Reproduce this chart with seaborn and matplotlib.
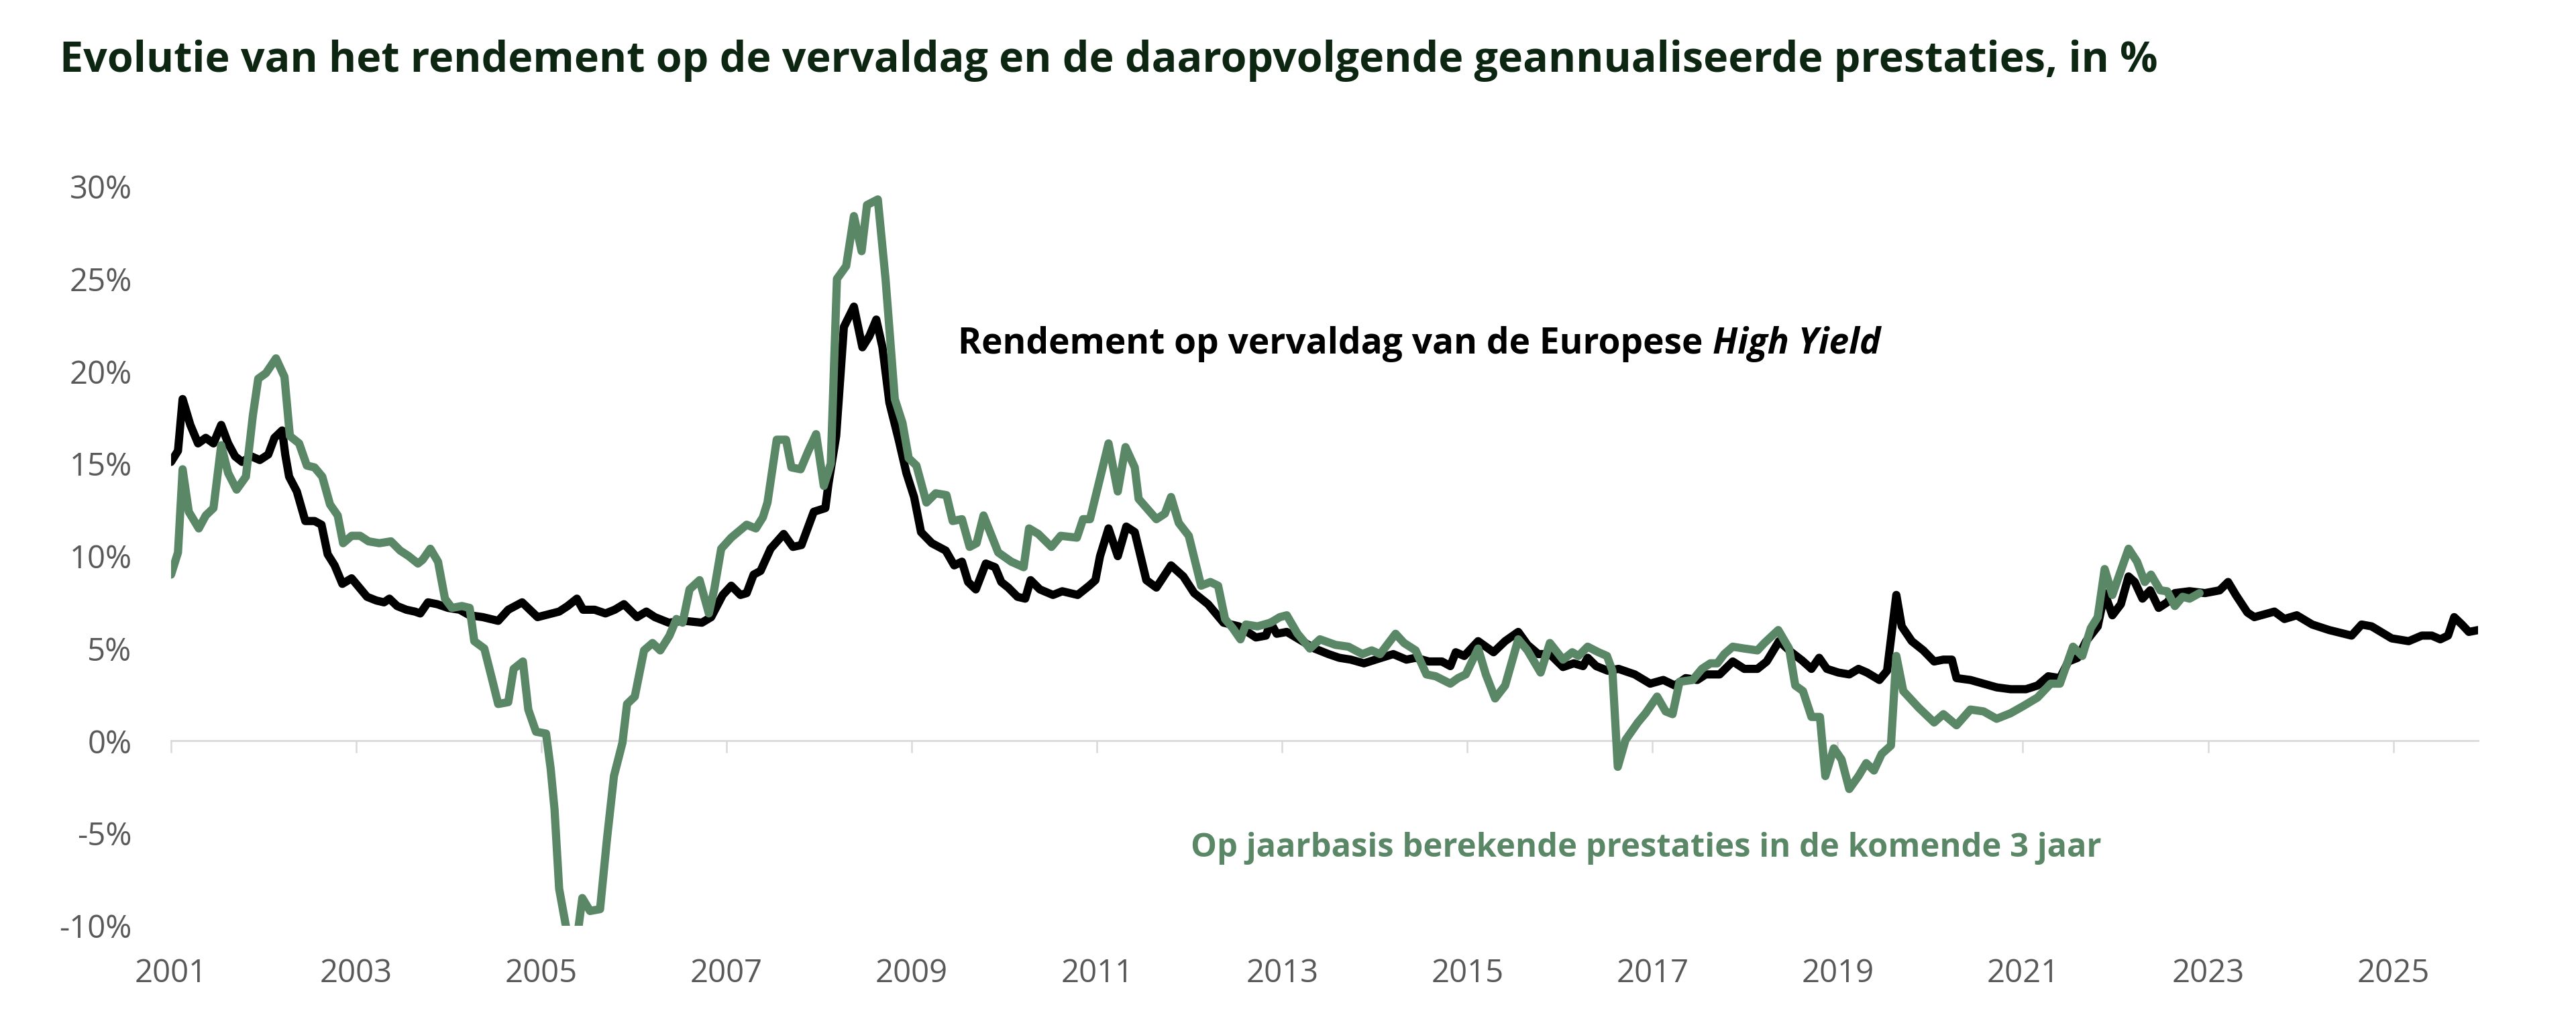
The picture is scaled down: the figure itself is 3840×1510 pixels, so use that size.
"""
Yield to maturity of European High Yield vs. subsequent 3-year annualised returns.
Values read off the reference chart (month offsets counted from January 2001).
"""

import numpy as np
import pandas as pd
import matplotlib
matplotlib.use("Agg")
import matplotlib.pyplot as plt
import seaborn as sns

sns.set_theme(style="white")
plt.rcParams["font.family"] = ["Open Sans", "DejaVu Sans"]

TITLE = ("Evolutie van het rendement op de vervaldag en de daaropvolgende "
         "geannualiseerde prestaties, in %")
LABEL_HY = "Rendement op vervaldag van de Europese"
LABEL_HY_ITALIC = "High Yield"
LABEL_FWD = "Op jaarbasis berekende prestaties in de komende 3 jaar"

START_YEAR = 2001
YEAR_TICKS = list(range(2001, 2026, 2))
PCT_TICKS = [-10, -5, 0, 5, 10, 15, 20, 25, 30]

GREEN = "#5a8766"
TITLE_COLOR = "#0c2612"
TICK_COLOR = "#595959"

# yield to maturity, European High Yield (black line)
hy_month = [0, 0.9, 1.5, 2.5, 3.5, 4.5, 5.5, 6.5, 7.4, 8.3,
            9.2, 10.4, 11.5, 12.6, 13.4, 14.4, 14.8, 15.3, 16.3, 17.4,
            18.6, 19.5, 20.3, 21.2, 22.2, 23.4, 24.4, 25.4, 26.6, 27.6,
            28.3, 29.3, 30.5, 31.6, 32.3, 33.3, 34.5, 35.9, 37.4, 38.7,
            40.4, 42.4, 43.7, 45.5, 47.5, 50.3, 51.4, 52.6, 53.4, 54.9,
            56.3, 57.5, 58.7, 60.4, 61.6, 62.7, 64.5, 66.5, 68.8, 70,
            71.5, 72.6, 73.8, 74.6, 75.5, 76.4, 77.7, 79.4, 80.6, 81.7,
            83.3, 84.8, 85.2, 86.2, 87.2, 88.5, 89.6, 90.5, 91.4, 92.2,
            93.1, 94.3, 95.3, 96.3, 97.2, 98.6, 100.4, 101.5, 102.5, 103.3,
            104.3, 105.6, 106.8, 107.6, 108.5, 109.7, 110.7, 111.4, 112.6, 114.3,
            115.5, 117.5, 119.0, 119.8, 120.4, 121.5, 122.7, 123.8, 124.9, 126.4,
            127.7, 129.6, 131.2, 132.6, 134.4, 136.4, 138.4, 140.6, 141.9, 142.5,
            143.3, 144.6, 146.2, 148.2, 150.0, 151.4, 152.9, 154.6, 156.1, 158.4,
            160.1, 161.3, 163.0, 164.7, 165.8, 166.5, 167.6, 169.4, 171.4, 172.9,
            174.6, 175.8, 177.2, 178.7, 180.4, 181.8, 183.0, 183.6, 184.7, 186.2,
            187.6, 189.7, 191.7, 193.4, 194.9, 196.3, 197.8, 198.9, 200.7, 202.4,
            203.9, 205.6, 206.8, 208.4, 210.0, 211.4, 212.6, 213.6, 214.6, 216.1,
            217.5, 218.7, 219.8, 221.4, 222.4, 223.6, 224.3, 225.6, 227.1, 228.5,
            229.7, 230.8, 231.4, 233.2, 234.9, 236.6, 238.4, 240.4, 241.9, 243.3,
            244.8, 245.9, 247.1, 248.2, 249.7, 250.6, 251.6, 252.7, 253.7, 254.5,
            255.5, 256.5, 257.6, 258.7, 259.7, 261.6, 263.6, 265.5, 266.6, 267.6,
            269.1, 270.0, 272.6, 273.9, 275.5, 277.5, 279.7, 282.6, 283.9, 285.2,
            287.8, 290.0, 291.7, 293.0, 294.1, 295.1, 295.9, 296.9, 297.8, 299.0]
hy_yield = [15.1, 15.7, 18.5, 17.1, 16.1, 16.4, 16.1, 17.1, 16.1, 15.4,
            15.1, 15.4, 15.2, 15.5, 16.4, 16.8, 15.5, 14.3, 13.5, 11.9,
            11.9, 11.7, 10.1, 9.5, 8.5, 8.8, 8.3, 7.8, 7.6, 7.5,
            7.7, 7.3, 7.1, 7.0, 6.9, 7.5, 7.4, 7.2, 7.1, 6.8,
            6.7, 6.5, 7.1, 7.5, 6.7, 7.0, 7.3, 7.7, 7.1, 7.1,
            6.9, 7.1, 7.4, 6.7, 7.0, 6.7, 6.4, 6.5, 6.4, 6.7,
            7.9, 8.4, 7.9, 8.0, 9.0, 9.2, 10.4, 11.2, 10.5, 10.6,
            12.4, 12.6, 13.9, 16.5, 22.4, 23.5, 21.3, 21.9, 22.8, 21.3,
            18.3, 16.3, 14.5, 13.2, 11.3, 10.7, 10.3, 9.5, 9.7, 8.6,
            8.2, 9.6, 9.4, 8.6, 8.3, 7.8, 7.7, 8.7, 8.2, 7.9,
            8.1, 7.9, 8.4, 8.7, 10.0, 11.5, 10.0, 11.6, 11.3, 8.7,
            8.3, 9.5, 8.9, 8.0, 7.4, 6.4, 6.2, 5.6, 5.7, 6.4,
            5.8, 5.9, 5.5, 5.0, 4.7, 4.5, 4.4, 4.2, 4.4, 4.7,
            4.4, 4.5, 4.3, 4.3, 4.05, 4.8, 4.6, 5.4, 4.8, 5.4,
            5.9, 5.2, 4.7, 4.7, 4.0, 4.2, 4.05, 4.5, 4.05, 3.8,
            3.9, 3.6, 3.1, 3.3, 3.0, 3.4, 3.3, 3.6, 3.6, 4.3,
            3.9, 3.9, 4.3, 5.4, 4.8, 4.35, 3.9, 4.5, 3.9, 3.7,
            3.6, 3.9, 3.7, 3.3, 3.8, 7.9, 6.2, 5.4, 4.9, 4.3,
            4.4, 4.4, 3.4, 3.3, 3.1, 2.9, 2.8, 2.8, 3.0, 3.5,
            3.4, 4.3, 4.5, 5.4, 6.2, 8.0, 6.8, 7.4, 8.9, 8.6,
            7.7, 8.15, 7.2, 7.5, 8.0, 8.1, 8.0, 8.15, 8.6, 7.9,
            6.95, 6.7, 7.0, 6.6, 6.8, 6.3, 6.0, 5.7, 6.3, 6.2,
            5.55, 5.4, 5.7, 5.7, 5.5, 5.7, 6.7, 6.3, 5.9, 6.0]

# annualised return over the following 3 years (green line)
fwd_month = [0, 0.9, 1.5, 2.3, 3.6, 4.5, 5.5, 6.5, 7.4, 8.5,
             9.7, 10.6, 11.3, 12.3, 13.6, 14.7, 15.4, 16.6, 17.6, 18.6,
             19.6, 20.6, 21.6, 22.3, 23.4, 24.5, 25.6, 27.0, 28.5, 29.7,
             30.8, 32.0, 32.6, 33.6, 34.6, 35.5, 36.4, 37.7, 38.7, 39.3,
             40.6, 41.6, 42.4, 43.7, 44.4, 45.6, 46.3, 47.3, 48.6, 49.2,
             49.7, 50.3, 51.6, 52.8, 53.3, 54.3, 55.6, 56.5, 57.4, 58.5,
             59.1, 60.1, 61.3, 62.4, 63.4, 64.6, 65.5, 66.3, 67.2, 68.5,
             69.7, 70.4, 71.3, 72.6, 74.6, 75.8, 76.7, 77.3, 78.5, 79.7,
             80.4, 81.6, 82.6, 83.6, 84.6, 85.5, 86.3, 87.5, 88.5, 89.5,
             90.2, 91.6, 92.6, 93.8, 94.8, 95.6, 96.6, 97.9, 99.1, 100.5,
             101.3, 102.5, 103.5, 104.4, 105.3, 107.2, 108.9, 110.5, 111.2, 112.4,
             114.1, 115.3, 117.4, 118.2, 119.1, 120.5, 121.5, 122.7, 123.7, 124.9,
             125.4, 127.7, 128.8, 129.6, 130.6, 131.9, 133.5, 134.7, 135.7, 136.6,
             137.6, 138.6, 139.3, 140.8, 142.5, 143.7, 144.6, 146.0, 147.6, 148.9,
             150.9, 152.6, 154.4, 155.6, 156.7, 158.7, 159.8, 161.3, 162.7, 163.9,
             165.8, 166.8, 167.8, 169.4, 170.4, 171.6, 172.9, 174.6, 175.8, 177.5,
             178.7, 180.4, 181.6, 182.4, 183.6, 185.0, 186.1, 186.8, 187.5, 188.5,
             190.1, 191.1, 192.6, 193.7, 194.6, 195.5, 197.2, 198.4, 199.5, 200.4,
             201.3, 202.4, 203.9, 205.6, 206.5, 208.3, 209.7, 210.5, 211.5, 212.6,
             213.7, 214.4, 215.5, 216.5, 217.5, 218.7, 219.7, 220.7, 221.7, 222.9,
             223.6, 224.5, 226.5, 228.5, 229.7, 231.4, 233.2, 234.9, 236.6, 238.4,
             240.1, 241.9, 243.6, 244.8, 246.5, 247.7, 248.8, 249.7, 250.6, 251.6,
             252.6, 253.7, 254.8, 255.8, 256.6, 257.8, 258.7, 259.7, 260.7, 261.6, 262.9]
fwd_return = [9.0, 10.2, 14.7, 12.4, 11.5, 12.2, 12.6, 16.0, 14.5, 13.6,
              14.3, 17.6, 19.6, 19.9, 20.7, 19.7, 16.5, 16.1, 14.9, 14.8,
              14.3, 12.8, 12.2, 10.7, 11.1, 11.1, 10.8, 10.7, 10.8, 10.3,
              10.0, 9.6, 9.8, 10.4, 9.7, 7.7, 7.2, 7.3, 7.2, 5.4,
              5.0, 3.35, 2.0, 2.1, 3.9, 4.3, 1.7, 0.5, 0.4, -1.5,
              -3.7, -8.0, -11.0, -10.1, -8.5, -9.2, -9.1, -5.3, -1.9, -0.1,
              2.0, 2.4, 4.9, 5.3, 4.9, 5.7, 6.6, 6.4, 8.2, 8.7,
              6.9, 8.2, 10.4, 11.0, 11.7, 11.5, 12.1, 12.9, 16.3, 16.3,
              14.8, 14.7, 15.7, 16.6, 13.8, 15.0, 25.0, 25.7, 28.4, 26.5,
              29.0, 29.3, 25.0, 18.5, 17.2, 15.3, 14.9, 12.9, 13.4, 13.3,
              11.9, 12.0, 10.5, 10.7, 12.2, 10.2, 9.7, 9.4, 11.5, 11.2,
              10.5, 11.1, 11.0, 12.0, 12.0, 14.4, 16.1, 13.5, 15.9, 14.8,
              13.1, 12.0, 12.3, 13.2, 11.8, 11.1, 8.4, 8.6, 8.4, 6.6,
              6.1, 5.5, 6.3, 6.2, 6.4, 6.7, 6.8, 5.8, 5.0, 5.5,
              5.2, 5.1, 4.7, 4.9, 4.7, 5.8, 5.3, 4.9, 3.6, 3.5,
              3.1, 3.4, 3.6, 5.0, 3.6, 2.3, 3.0, 5.5, 4.9, 3.7,
              5.3, 4.4, 4.8, 4.6, 5.1, 4.8, 4.6, 3.8, -1.4, 0.05,
              1.0, 1.5, 2.4, 1.6, 1.45, 3.2, 3.3, 3.9, 4.2, 4.2,
              4.7, 5.1, 5.0, 4.9, 5.3, 6.0, 5.0, 3.0, 2.7, 1.3,
              1.3, -1.9, -0.4, -1.0, -2.6, -1.9, -1.2, -1.6, -0.7, -0.25,
              4.6, 2.7, 1.8, 1.0, 1.45, 0.85, 1.7, 1.6, 1.2, 1.5,
              1.9, 2.35, 3.1, 3.1, 5.1, 4.6, 6.1, 6.7, 9.3, 7.9,
              9.1, 10.4, 9.7, 8.6, 9.0, 8.15, 8.1, 7.3, 7.8, 7.7, 8.0]

assert len(hy_month) == len(hy_yield)
assert len(fwd_month) == len(fwd_return)


def to_frame(months, values):
    return pd.DataFrame({"year": START_YEAR + np.array(months) / 12.0,
                         "value": values})


def main():
    hy = to_frame(hy_month, hy_yield)
    fwd = to_frame(fwd_month, fwd_return)

    fig = plt.figure(figsize=(19.2, 7.55), dpi=200)
    ax = fig.add_axes([0.0664, 0.0861, 0.8956, 0.7298])

    sns.lineplot(data=hy, x="year", y="value", color="black", linewidth=4.4,
                 estimator=None, sort=False, ax=ax)
    sns.lineplot(data=fwd, x="year", y="value", color=GREEN, linewidth=4.4,
                 estimator=None, sort=False, ax=ax)

    ax.set_xlim(START_YEAR, hy["year"].max())
    ax.set_ylim(PCT_TICKS[0], PCT_TICKS[-1])
    ax.set_xlabel("")
    ax.set_ylabel("")

    # zero line doubles as the x axis, with ticks hanging below it
    for side in ["left", "right", "top"]:
        ax.spines[side].set_visible(False)
    ax.spines["bottom"].set_position(("data", 0))
    ax.spines["bottom"].set_color("#d9d9d9")
    ax.spines["bottom"].set_linewidth(1.0)
    ax.spines["bottom"].set_zorder(0.5)
    ax.set_xticks(YEAR_TICKS)
    ax.tick_params(axis="x", bottom=True, direction="out", length=6.5,
                   width=0.9, color="#d9d9d9", labelbottom=False)

    # year labels sit at the bottom of the plot area
    sec = ax.secondary_xaxis("bottom")
    sec.set_xticks(YEAR_TICKS, labels=[str(y) for y in YEAR_TICKS])
    sec.spines["bottom"].set_visible(False)
    sec.tick_params(length=0, pad=17, labelsize=17, labelcolor=TICK_COLOR)

    ax.set_yticks(PCT_TICKS, labels=[f"{v}%" for v in PCT_TICKS])
    ax.tick_params(axis="y", left=False, length=0, pad=21, labelsize=17,
                   labelcolor=TICK_COLOR)

    fig.text(0.0232, 0.940, TITLE, fontsize=22.6, fontweight="bold",
             color=TITLE_COLOR, ha="left", va="center")

    t1 = fig.text(0.372, 0.651, LABEL_HY, fontsize=19.2, fontweight="bold",
                  color="black", ha="left", va="baseline")
    ax.annotate(LABEL_HY_ITALIC, xy=(1, 0.651), xycoords=(t1, "figure fraction"),
                xytext=(5, 0), textcoords="offset points",
                fontsize=19.2, fontweight="bold", fontstyle="italic",
                color="black", ha="left", va="baseline", annotation_clip=False)

    fig.text(0.4622, 0.154, LABEL_FWD, fontsize=17.6, fontweight="bold",
             color=GREEN, ha="left", va="baseline")

    fig.savefig("out.png", dpi=200, facecolor="white")
    plt.close(fig)


if __name__ == "__main__":
    main()
